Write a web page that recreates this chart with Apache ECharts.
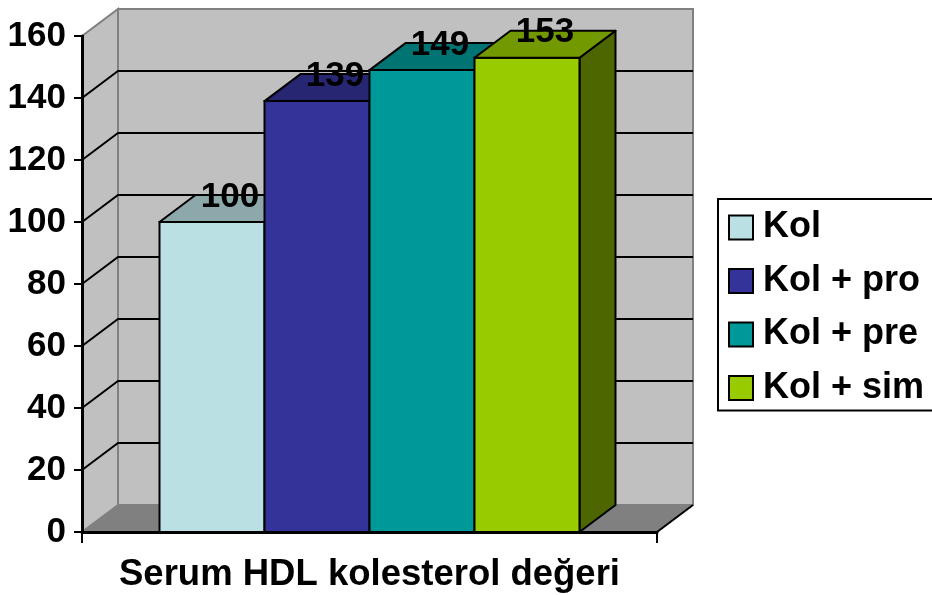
<!DOCTYPE html>
<html>
<head>
<meta charset="utf-8">
<script src="https://cdn.jsdelivr.net/npm/echarts@6/dist/echarts.min.js"></script>
<style>
  html, body { margin: 0; padding: 0; background: #ffffff; }
  #chart { width: 932px; height: 595px; }
</style>
</head>
<body>
<div id="chart"></div>
<script>
// Chart data
const categories = ['Serum HDL kolesterol değeri'];
const seriesNames = ['Kol', 'Kol + pro', 'Kol + pre', 'Kol + sim'];
const seriesValues = [100, 139, 149, 153];
const seriesColors = ['#bbe0e3', '#333399', '#009999', '#99cc00'];
const yMin = 0, yMax = 160, yStep = 20;

// 3D look: depth offset of the box and bars, and bar width as share of the band
const DX = 36, DY = 27;
const BAR_RATIO = 0.1826;
const FONT = '"Liberation Sans", Arial, sans-serif';

function shade(hex, f) {
  const n = parseInt(hex.slice(1), 16);
  const r = Math.round(((n >> 16) & 255) * f);
  const g = Math.round(((n >> 8) & 255) * f);
  const b = Math.round((n & 255) * f);
  return 'rgb(' + r + ',' + g + ',' + b + ')';
}

// Walls, floor and gridlines of the 3D box
function renderFrame(params, api) {
  const base = api.coord([0, yMin]);
  const topY = api.coord([0, yMax])[1];
  const bandW = api.size([1, 0])[0];
  const left = base[0] - bandW / 2;
  const right = base[0] + bandW / 2;
  const by = base[1];
  const children = [];
  children.push({
    type: 'rect',
    shape: { x: left + DX, y: topY - DY, width: bandW, height: by - topY },
    style: { fill: '#c0c0c0', stroke: '#808080', lineWidth: 2 }
  });
  children.push({
    type: 'polygon',
    shape: { points: [[left, by], [left, topY], [left + DX, topY - DY], [left + DX, by - DY]] },
    style: { fill: '#c0c0c0', stroke: '#808080', lineWidth: 2 }
  });
  children.push({
    type: 'polygon',
    shape: { points: [[left, by], [right, by], [right + DX, by - DY], [left + DX, by - DY]] },
    style: { fill: '#808080', stroke: '#808080', lineWidth: 1 }
  });
  children.push({
    type: 'line',
    shape: { x1: right, y1: by, x2: right + DX, y2: by - DY },
    style: { stroke: '#000', lineWidth: 2 }
  });
  for (let v = yMin + yStep; v < yMax; v += yStep) {
    const y = api.coord([0, v])[1];
    children.push({
      type: 'polyline',
      shape: { points: [[left, y], [left + DX, y - DY], [right + DX, y - DY]] },
      style: { stroke: '#000', lineWidth: 2, fill: null }
    });
  }
  return { type: 'group', children: children };
}

// One 3D bar per series: side, front and top faces plus value label
function makeBarRenderer(idx, count) {
  return function (params, api) {
    const v = api.value(1);
    const top = api.coord([0, v]);
    const base = api.coord([0, yMin]);
    const barW = api.size([1, 0])[0] * BAR_RATIO;
    const x0 = top[0] + (idx - count / 2) * barW;
    const ty = top[1], by = base[1];
    const col = seriesColors[idx];
    return {
      type: 'group',
      children: [
        {
          type: 'polygon',
          shape: { points: [[x0 + barW, ty], [x0 + barW + DX, ty - DY], [x0 + barW + DX, by - DY], [x0 + barW, by]] },
          style: { fill: shade(col, 0.5), stroke: '#000', lineWidth: 2, lineJoin: 'round' }
        },
        {
          type: 'rect',
          shape: { x: x0, y: ty, width: barW, height: by - ty },
          style: { fill: col, stroke: '#000', lineWidth: 2 }
        },
        {
          type: 'polygon',
          shape: { points: [[x0, ty], [x0 + DX, ty - DY], [x0 + barW + DX, ty - DY], [x0 + barW, ty]] },
          style: { fill: shade(col, 0.75), stroke: '#000', lineWidth: 2, lineJoin: 'round' }
        },
        {
          type: 'text',
          z2: 100,
          style: {
            text: String(v),
            x: x0 + barW / 2 + DX / 2,
            y: ty - DY + 2,
            align: 'center',
            verticalAlign: 'middle',
            font: 'bold 35px ' + FONT,
            fill: '#000'
          }
        }
      ]
    };
  };
}

const chart = echarts.init(document.getElementById('chart'), null, { renderer: 'canvas' });

const series = [{
  name: '__frame',
  type: 'custom',
  coordinateSystem: 'cartesian2d',
  renderItem: renderFrame,
  data: [[0, yMin]],
  z: 1,
  silent: true
}];
seriesNames.forEach(function (name, i) {
  series.push({
    name: name,
    type: 'custom',
    coordinateSystem: 'cartesian2d',
    renderItem: makeBarRenderer(i, seriesNames.length),
    itemStyle: { color: seriesColors[i] },
    data: [[0, seriesValues[i]]],
    z: 3
  });
});

chart.setOption({
  animation: false,
  backgroundColor: '#ffffff',
  grid: { left: 82, right: 275, top: 36, bottom: 63, containLabel: false },
  xAxis: {
    type: 'category',
    data: categories,
    boundaryGap: true,
    axisLine: { show: true, lineStyle: { color: '#000', width: 3 } },
    axisTick: { show: true, length: 11, lineStyle: { color: '#000', width: 2 } },
    axisLabel: { color: '#000', fontFamily: FONT, fontWeight: 'bold', fontSize: 36.5, margin: 24 },
    splitLine: { show: false },
    z: 10
  },
  yAxis: {
    type: 'value',
    min: yMin,
    max: yMax,
    interval: yStep,
    axisLine: { show: true, lineStyle: { color: '#000', width: 3 } },
    axisTick: { show: true, length: 8, lineStyle: { color: '#000', width: 2 } },
    axisLabel: { color: '#000', fontFamily: FONT, fontWeight: 'bold', fontSize: 35, margin: 16 },
    splitLine: { show: false },
    z: 10
  },
  legend: {
    orient: 'vertical',
    left: 718,
    top: 199,
    padding: [10, 40, 4, 10],
    itemWidth: 24,
    itemHeight: 24,
    itemGap: 16.5,
    borderColor: '#000',
    borderWidth: 2,
    icon: 'rect',
    itemStyle: { borderColor: '#000', borderWidth: 2 },
    textStyle: { color: '#000', fontFamily: FONT, fontWeight: 'bold', fontSize: 36, lineHeight: 37, padding: [0, 0, 0, 5] },
    data: seriesNames.map(function (n, i) {
      return { name: n, icon: 'rect', itemStyle: { color: seriesColors[i], borderColor: '#000', borderWidth: 2 } };
    })
  },
  series: series
});
</script>
</body>
</html>
